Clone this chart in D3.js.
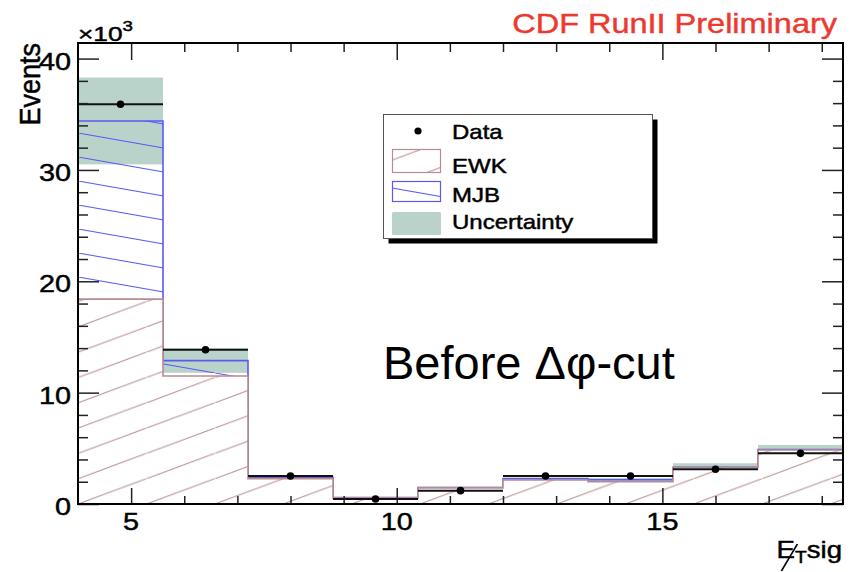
<!DOCTYPE html>
<html><head><meta charset="utf-8">
<script src="https://cdn.jsdelivr.net/npm/d3@7"></script>
<style>
body{margin:0;background:#fff}
svg{display:block}
text{font-family:"Liberation Sans",Arial,Helvetica,sans-serif}
</style>
</head><body>
<svg id="chart" width="856" height="572"></svg>
<script>
// ---------- data (values in units of 10^3 events) ----------
const binEdges   = [4.0, 5.6, 7.2, 8.8, 10.4, 12.0, 13.6, 15.2, 16.8, 18.4];
const dataValues = [35.9, 13.85, 2.52, 0.45, 1.20, 2.52, 2.52, 3.12, 4.55];
const ewkValues  = [18.4, 11.5, 2.28, 0.55, 1.45, 2.15, 2.00, 3.28, 4.85];
const mjbValues  = [16.0, 1.38, 0.12, 0.02, 0.02, 0.12, 0.18, 0.02, 0.03];
const uncValues  = [3.9, 1.1, 0.15, 0.05, 0.08, 0.12, 0.15, 0.36, 0.42];
const xMajorTicks = [5, 10, 15];
const xTickLabels = ["5", "10", "15"];
const xMinorTicks = [5, 6, 7, 8, 9, 10, 11, 12, 13, 14, 15, 16, 17, 18];
const yMajorTicks = [0, 10, 20, 30, 40];
const yTickLabels = ["0", "10", "20", "30", "40"];
const yMinorTicks = [2, 4, 6, 8, 12, 14, 16, 18, 22, 24, 26, 28, 32, 34, 36, 38];
const legendLabels = ["Data", "EWK", "MJB", "Uncertainty"];
const titleText = "CDF RunII Preliminary";
const overlayText = "Before \u0394\u03c6-cut";

// ---------- styles ----------
const ewkColor = "#b98a8f", mjbColor = "#5a5af2", bandColor = "#b9d3cb", titleColor = "#ec3a30";
const SX = 1.2; // horizontal stretch of the original ROOT text

const svg = d3.select("#chart");
const x = d3.scaleLinear().domain([4, 18.4]).range([78, 843]);
const y = d3.scaleLinear().domain([0, 41.4]).range([504, 43]);

const bins = binEdges.slice(0, -1).map((lo, i) => ({
  lo, hi: binEdges[i + 1], data: dataValues[i], ewk: ewkValues[i], mjb: mjbValues[i], unc: uncValues[i]
}));
const stacked = d3.stack().keys(["ewk", "mjb"])(bins);
bins.forEach((b, i) => { b.total = stacked[1][i][1]; b.ewkTop = stacked[0][i][1]; });

// ---------- patterns ----------
const defs = svg.append("defs");
const eW = 68.4, eH = 25.3;
const pE = defs.append("pattern").attr("id", "hEWK").attr("patternUnits", "userSpaceOnUse")
  .attr("x", x(4)).attr("y", y(0)).attr("width", eW).attr("height", eH);
pE.append("line").attr("x1", -eW).attr("y1", 2 * eH).attr("x2", 2 * eW).attr("y2", -eH)
  .attr("stroke", ewkColor).attr("stroke-width", 1.1);
const mW = 137, mH = 24;
const pM = defs.append("pattern").attr("id", "hMJB").attr("patternUnits", "userSpaceOnUse")
  .attr("x", x(4)).attr("y", 181).attr("width", mW).attr("height", mH);
pM.append("line").attr("x1", -mW).attr("y1", -mH).attr("x2", 2 * mW).attr("y2", 2 * mH)
  .attr("stroke", mjbColor).attr("stroke-width", 1.1);

const plot = svg.append("g");

// uncertainty band
plot.selectAll("rect.band").data(bins).join("rect").attr("class", "band")
  .attr("x", d => x(d.lo)).attr("width", d => x(d.hi) - x(d.lo))
  .attr("y", d => y(d.total + d.unc)).attr("height", d => y(d.total - d.unc) - y(d.total + d.unc))
  .attr("fill", bandColor);

// MJB hatched region
plot.selectAll("rect.mjb").data(bins).join("rect").attr("class", "mjb")
  .attr("x", d => x(d.lo)).attr("width", d => x(d.hi) - x(d.lo))
  .attr("y", d => y(d.total)).attr("height", d => y(d.ewkTop) - y(d.total))
  .attr("fill", "url(#hMJB)");

const stepLine = d3.line().x(d => x(d[0])).y(d => y(d[1])).curve(d3.curveStepAfter);
function stepPoints(key) {
  const pts = [[binEdges[0], 0]];
  bins.forEach(b => pts.push([b.lo, b[key]]));
  pts.push([binEdges[binEdges.length - 1], bins[bins.length - 1][key]]);
  pts.push([binEdges[binEdges.length - 1], 0]);
  return pts;
}
plot.append("path").attr("d", stepLine(stepPoints("total")))
  .attr("fill", "none").attr("stroke", mjbColor).attr("stroke-width", 1.6);

// EWK (opaque white + hatch)
plot.selectAll("rect.ewkbg").data(bins).join("rect").attr("class", "ewkbg")
  .attr("x", d => x(d.lo)).attr("width", d => x(d.hi) - x(d.lo))
  .attr("y", d => y(d.ewkTop)).attr("height", d => y(0) - y(d.ewkTop)).attr("fill", "#fff");
plot.selectAll("rect.ewk").data(bins).join("rect").attr("class", "ewk")
  .attr("x", d => x(d.lo)).attr("width", d => x(d.hi) - x(d.lo))
  .attr("y", d => y(d.ewkTop)).attr("height", d => y(0) - y(d.ewkTop)).attr("fill", "url(#hEWK)");
plot.append("path").attr("d", stepLine(stepPoints("ewkTop")))
  .attr("fill", "none").attr("stroke", ewkColor).attr("stroke-width", 1.6);

// data
plot.selectAll("line.data").data(bins).join("line").attr("class", "data")
  .attr("x1", d => x(d.lo)).attr("x2", d => x(d.hi))
  .attr("y1", d => y(d.data)).attr("y2", d => y(d.data))
  .attr("stroke", "#111").attr("stroke-width", 2);
plot.selectAll("circle.data").data(bins).join("circle").attr("class", "data")
  .attr("cx", d => x((d.lo + d.hi) / 2)).attr("cy", d => y(d.data)).attr("r", 3.8).attr("fill", "#000");

// ---------- axes ----------
function tickAxis(axisFn, scale, values, size, transform) {
  const g = svg.append("g").attr("transform", transform)
    .call(axisFn(scale).tickValues(values).tickSize(size).tickSizeOuter(0).tickFormat(""));
  g.select(".domain").remove();
  g.selectAll(".tick line").attr("stroke", "#222").attr("stroke-width", 1.5);
  return g;
}
tickAxis(d3.axisBottom, x, xMajorTicks, -16, `translate(0,${y(0)})`);
tickAxis(d3.axisBottom, x, xMinorTicks.filter(v => !xMajorTicks.includes(v)), -8, `translate(0,${y(0)})`);
tickAxis(d3.axisTop, x, xMajorTicks, -17, `translate(0,${y.range()[1]})`);
tickAxis(d3.axisTop, x, xMinorTicks.filter(v => !xMajorTicks.includes(v)), -9, `translate(0,${y.range()[1]})`);
tickAxis(d3.axisLeft, y, yMajorTicks, -21, `translate(${x.range()[0]},0)`);
tickAxis(d3.axisLeft, y, yMinorTicks, -10, `translate(${x.range()[0]},0)`);
tickAxis(d3.axisRight, y, yMajorTicks, -21, `translate(${x.range()[1]},0)`);
tickAxis(d3.axisRight, y, yMinorTicks, -10, `translate(${x.range()[1]},0)`);

svg.append("rect").attr("x", x.range()[0]).attr("y", y.range()[1])
  .attr("width", x.range()[1] - x.range()[0]).attr("height", y.range()[0] - y.range()[1])
  .attr("fill", "none").attr("stroke", "#000").attr("stroke-width", 2);

function sText(px, py, str, size, anchor, color, sx) {
  const c = color || "#000";
  return svg.append("text").attr("transform", `translate(${px},${py}) scale(${sx || SX},1)`)
    .attr("text-anchor", anchor).attr("font-size", size).attr("fill", c)
    .attr("stroke", c).attr("stroke-width", 0.45).text(str);
}

// tick labels
xMajorTicks.forEach((v, i) => sText(x(v), 530, xTickLabels[i], 24, "middle"));
yMajorTicks.forEach((v, i) => sText(71, y(v) + 11, yTickLabels[i], 24, "end"));

// x10^3
const ex = sText(78, 41, "\u00d710", 21, "start", "#000", 1.25);
ex.append("tspan").attr("font-size", 15).attr("dy", -10).text("3");

// Events
svg.append("text").attr("transform", "translate(39.5,43) rotate(-90) scale(1,1.08)")
  .attr("text-anchor", "end").attr("font-size", 27).attr("stroke", "#000").attr("stroke-width", 0.45).text("Events");

// x-axis title: E-slash_T sig
const xt = sText(842, 558, "", 23, "end");
xt.append("tspan").text("E");
xt.append("tspan").attr("font-size", 16).attr("dy", 5).text("T");
xt.append("tspan").attr("dy", -5).text("sig");
const eExt = xt.node().getExtentOfChar(0);
svg.append("line")
  .attr("transform", `translate(842,558) scale(${SX},1)`)
  .attr("x1", eExt.x + 4).attr("y1", 13).attr("x2", eExt.x + eExt.width + 2).attr("y2", -14)
  .attr("stroke", "#000").attr("stroke-width", 1.5);

// title
sText(837, 33, titleText, 28, "end", titleColor, 1.16);

// overlay text
svg.append("text").attr("x", 383).attr("y", 379).attr("font-size", 47).attr("fill", "#000").text(overlayText);

// ---------- legend ----------
const lg = svg.append("g");
lg.append("rect").attr("x", 388.5).attr("y", 119.5).attr("width", 269).attr("height", 124).attr("fill", "#000");
lg.append("rect").attr("x", 383.5).attr("y", 114.5).attr("width", 269).attr("height", 124)
  .attr("fill", "#fff").attr("stroke", "#555").attr("stroke-width", 1);
const rowBase = [139, 173, 202, 229];
lg.append("circle").attr("cx", 418).attr("cy", 131).attr("r", 3.6).attr("fill", "#000");
lg.append("rect").attr("x", 392.5).attr("y", 149.5).attr("width", 48).attr("height", 23)
  .attr("fill", "url(#hEWK)").attr("stroke", ewkColor).attr("stroke-width", 1.2);
lg.append("rect").attr("x", 392.5).attr("y", 181.5).attr("width", 48).attr("height", 20)
  .attr("fill", "url(#hMJB)").attr("stroke", mjbColor).attr("stroke-width", 1.2);
lg.append("rect").attr("x", 392).attr("y", 212).attr("width", 49).attr("height", 23)
  .attr("fill", bandColor).attr("rx", 1.5);
legendLabels.forEach((t, i) => sText(452, rowBase[i], t, 20, "start"));
</script>
</body></html>
